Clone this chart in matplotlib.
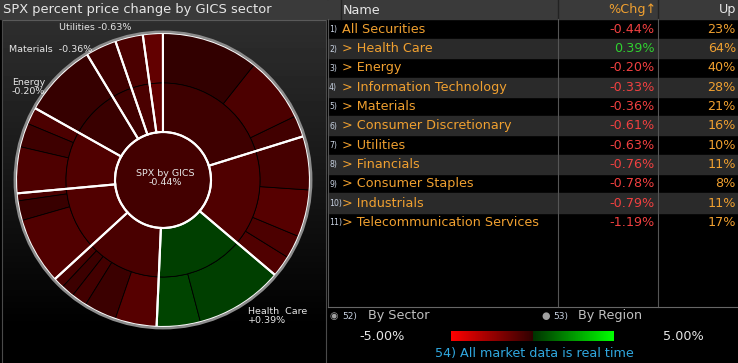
import numpy as np
import matplotlib
matplotlib.use('Agg')
import matplotlib.pyplot as plt
import matplotlib as mpl
from matplotlib.colors import LinearSegmentedColormap, Normalize
from matplotlib.patches import Rectangle

# sectors in the order they run round the wheel (counter-clockwise, starting at ~17 deg)
sectors = ['Information Technology', 'Telecommunication Services', 'Utilities', 'Materials',
           'Energy', 'Consumer Staples', 'Industrials', 'Consumer Discretionary',
           'Health Care', 'Financials']
sector_chg = [-0.33, -1.19, -0.63, -0.36, -0.20, -0.78, -0.79, -0.61, 0.39, -0.76]
spx_chg = -0.44

# outer ring: industry weights (% of index) and % change, per sector
ind_weight = [[2.36, 7.19, 10.65], [2.2], [3.05], [3.4], [8.2],
              [1.86, 2.64, 5.1], [0.83, 2.17, 7.35],
              [1.19, 1.44, 1.72, 3.58, 4.57], [4.8, 9.7],
              [2.36, 2.56, 5.19, 5.89]]
ind_chg = [[-0.42, -0.68, -0.06], [-1.19], [-0.63], [-0.36], [-0.14],
           [-0.70, -0.32, -0.74], [-0.62, -0.20, -0.80],
           [-0.58, -0.30, -0.44, -0.26, -0.92], [0.48, 0.36],
           [-0.78, -0.68, -0.90, -0.52]]

# labels around the wheel
wheel_labels = ['Utilities -0.63%', 'Materials  -0.36%', 'Energy\n-0.20%', 'Health  Care\n+0.39%']
wheel_label_xy = [(59, 28), (9, 49), (12, 87), (248, 316)]

# table
row_names = ['All Securities', '> Health Care', '> Energy', '> Information Technology',
             '> Materials', '> Consumer Discretionary', '> Utilities', '> Financials',
             '> Consumer Staples', '> Industrials', '> Telecommunication Services']
row_chg = [-0.44, 0.39, -0.20, -0.33, -0.36, -0.61, -0.63, -0.76, -0.78, -0.79, -1.19]
row_up = [23, 64, 40, 28, 21, 16, 10, 11, 8, 11, 17]

ORANGE = '#f0a030'
WHITE = '#e6e6e6'
FS = 9.2

cmap = LinearSegmentedColormap.from_list('chg', [(0.0, '#ff0000'), (0.5, '#300000'),
                                                 (0.5, '#003000'), (1.0, '#00ff00')])
norm = Normalize(-5, 5)

fig = plt.figure(figsize=(7.38, 3.63), dpi=100, facecolor='black')

# background / table axes in pixel coords
bg = fig.add_axes([0, 0, 1, 1])
bg.set_xlim(0, 738)
bg.set_ylim(363, 0)
bg.axis('off')
bg.add_patch(Rectangle((0, 0), 738, 363, color='black', zorder=0))

# left panel
grad = np.linspace(0.18, 0.0, 100).reshape(-1, 1)
bg.imshow(grad, cmap='gray', vmin=0, vmax=1, extent=(2, 326, 330, 20), aspect='auto', zorder=1)
bg.add_patch(Rectangle((0, 0), 327, 19, color='#3a3a3a', zorder=2))
bg.plot([2, 326], [20, 20], color='#5a5a5a', lw=0.8, zorder=3)
bg.plot([2, 2], [20, 363], color='#4a4a4a', lw=0.8, zorder=3)
bg.plot([326, 326], [20, 363], color='#4a4a4a', lw=0.8, zorder=3)
bg.text(3, 10, 'SPX percent price change by GICS sector', color=WHITE, fontsize=9.4,
        va='center', ha='left', zorder=4)

# table header
bg.add_patch(Rectangle((328, 0), 410, 19, color='#3a3a3a', zorder=2))
for xs in [341, 558, 658]:
    bg.plot([xs, xs], [0, 19], color='#222222', lw=1.0, zorder=3)
bg.text(343, 10, 'Name', color=WHITE, fontsize=FS, va='center', zorder=4)
bg.text(656, 10, '%Chg\u2191', color=ORANGE, fontsize=FS, va='center', ha='right', zorder=4)
bg.text(736, 10, 'Up', color=WHITE, fontsize=FS, va='center', ha='right', zorder=4)

row_h = 19.3
y0 = 29.3
for i, (nm, ch, up) in enumerate(zip(row_names, row_chg, row_up)):
    yc = y0 + i * row_h
    if i % 2 == 1:
        bg.add_patch(Rectangle((328, yc - row_h / 2), 410, row_h, color='#2a2a2a', zorder=1))
    bg.text(329, yc + 0.5, '%d)' % (i + 1), color='#c8d2e2', fontsize=5.6, va='center', zorder=4)
    bg.text(342, yc, nm, color=ORANGE, fontsize=FS, va='center', zorder=4)
    bg.text(655, yc, '%.2f%%' % ch, color='#30d030' if ch > 0 else '#f04040',
            fontsize=FS, va='center', ha='right', zorder=4)
    bg.text(736, yc, '%d%%' % up, color=ORANGE, fontsize=FS, va='center', ha='right', zorder=4)

for xs in [558, 658]:
    bg.plot([xs, xs], [19, 307], color='#555555', lw=0.8, zorder=3)
bg.plot([328, 328], [19, 307], color='#555555', lw=0.8, zorder=3)
bg.plot([328, 738], [307, 307], color='#666666', lw=0.8, zorder=3)

# bottom controls
bg.text(330, 316, '\u25c9', color='#a0a0a0', fontsize=7, va='center', zorder=4)
bg.text(342, 316, '52)', color='#c8d2e2', fontsize=6.5, va='center', zorder=4)
bg.text(368, 316, 'By Sector', color='#c0c0c0', fontsize=FS, va='center', zorder=4)
bg.text(541, 316, '\u25cf', color='#a0a0a0', fontsize=7, va='center', zorder=4)
bg.text(553, 316, '53)', color='#c8d2e2', fontsize=6.5, va='center', zorder=4)
bg.text(578, 316, 'By Region', color='#c0c0c0', fontsize=FS, va='center', zorder=4)
bg.text(405, 336, '-5.00%', color=WHITE, fontsize=FS, va='center', ha='right', zorder=4)
bg.text(663, 336, '5.00%', color=WHITE, fontsize=FS, va='center', ha='left', zorder=4)
bg.text(534, 354, '54) All market data is real time', color='#30a8e0', fontsize=FS,
        va='center', ha='center', zorder=4)

# colour legend bar
cax = fig.add_axes([451 / 738, 1 - 341 / 363, 163 / 738, 10 / 363])
cb = fig.colorbar(mpl.cm.ScalarMappable(norm=norm, cmap=cmap), cax=cax, orientation='horizontal')
cb.outline.set_visible(False)
cax.set_xticks([])

# sunburst
cx, cy, R = 163, 180, 147
half = 150
ax = fig.add_axes([(cx - half) / 738, (363 - cy - half) / 363, 2 * half / 738, 2 * half / 363])
ax.patch.set_alpha(0)
r_in, r_mid = 48 / R, 97 / R
start = 17.3

flat_w = [w for ws in ind_weight for w in ws]
flat_c = [cmap(norm(c)) for cs in ind_chg for c in cs]
sec_w = [sum(ws) for ws in ind_weight]

ax.pie(flat_w, radius=1, colors=flat_c, startangle=start, counterclock=True,
       wedgeprops=dict(width=1 - r_mid, edgecolor='black', linewidth=0.6))
ax.pie(sec_w, radius=r_mid, colors=[cmap(norm(c)) for c in sector_chg], startangle=start,
       wedgeprops=dict(width=r_mid - r_in, edgecolor='black', linewidth=0.6))
ax.pie([1], radius=r_in, colors=[cmap(norm(spx_chg))],
       wedgeprops=dict(edgecolor='white', linewidth=1.5))
ax.pie(sec_w, radius=1, startangle=start,
       wedgeprops=dict(width=1 - r_in, edgecolor='white', linewidth=1.5, fill=False))
ax.add_patch(plt.Circle((0, 0), 1.008, fill=False, edgecolor='#8c8c8c', lw=1.8))
ax.set_xlim(-half / R, half / R)
ax.set_ylim(-half / R, half / R)
ax.set_aspect('equal')
ax.axis('off')

ax.text(cx + 2, cy - 2, 'SPX by GICS\n%.2f%%' % spx_chg, color=WHITE, fontsize=6.8,
        ha='center', va='center', linespacing=0.9, transform=bg.transData)
for s, (tx, ty) in zip(wheel_labels, wheel_label_xy):
    ax.text(tx, ty, s, color=WHITE, fontsize=6.8, ha='left', va='center',
            linespacing=0.9, transform=bg.transData)

fig.savefig('out.png', dpi=100, facecolor='black')
